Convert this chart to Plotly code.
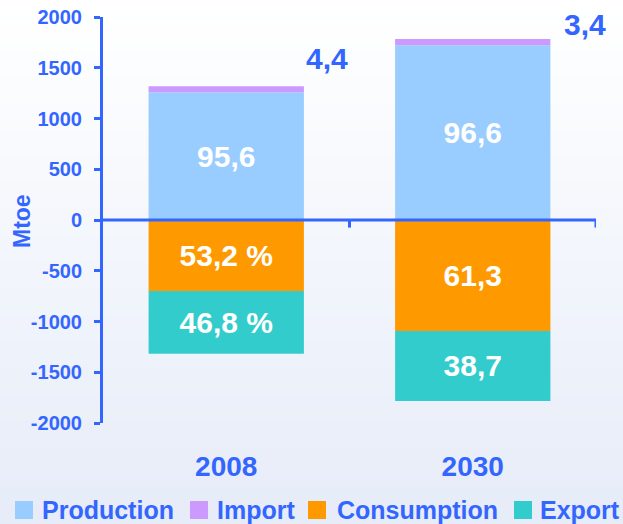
import plotly.graph_objects as go

years = ["2008", "2030"]
production = [1259, 1722]
imports = [58, 61]
consumption = [-700, -1093]
export = [-617, -690]

prod_labels = ["95,6", "96,6"]
cons_labels = ["53,2 %", "61,3"]
exp_labels = ["46,8 %", "38,7"]
import_labels = ["4,4", "3,4"]
import_label_x = [0.41, 1.455]
import_label_y = [1590, 1925]

series_names = ["Production", "Import", "Consumption", "Export"]
series_colors = ["#99CCFF", "#CC99FF", "#FF9900", "#33CCCC"]

y_ticks = [-2000, -1500, -1000, -500, 0, 500, 1000, 1500, 2000]
y_tick_text = ["-2000", "-1500", "-1000", "-500", "0", "500", "1000", "1500", "2000"]

BLUE = "#3366FF"
FONT = "Arial, Liberation Sans, sans-serif"

# page geometry (pixels) of the plot area
W, H = 623, 524
L, R, T, B = 103, 27, 17, 101
PW, PH = W - L - R, H - T - B


def px_x(p):
    return (p - L) / PW


def px_y(p):
    return (H - B - p) / PH


fig = go.Figure()
txtfont = dict(family=FONT, size=30, color="white", weight="bold")
values = [production, imports, consumption, export]
labels = [prod_labels, None, cons_labels, exp_labels]
for name, col, vals, lab in zip(series_names, series_colors, values, labels):
    if lab is None:
        fig.add_bar(name=name, x=years, y=vals, marker_color=col,
                    textposition="none", marker_line_width=0, showlegend=False)
    else:
        fig.add_bar(name=name, x=years, y=vals, marker_color=col, text=lab,
                    textposition="inside", insidetextanchor="middle",
                    textfont=txtfont, marker_line_width=0, showlegend=False)

for lx, ly, lt in zip(import_label_x, import_label_y, import_labels):
    fig.add_annotation(x=lx, y=ly, text=lt, showarrow=False,
                       font=dict(family=FONT, size=30, color=BLUE, weight="bold"))

# gradient background
n = 40
top = (255, 255, 255)
bot = (230, 236, 248)
y_lo, y_hi = px_y(H + 2), px_y(-2)
for i in range(n):
    t = i / (n - 1)
    c = tuple(round(bot[k] + (top[k] - bot[k]) * t) for k in range(3))
    fig.add_shape(type="rect", xref="paper", yref="paper",
                  x0=px_x(-2), x1=px_x(W + 2),
                  y0=y_lo + (y_hi - y_lo) * i / n, y1=y_lo + (y_hi - y_lo) * (i + 1) / n + 0.002,
                  fillcolor="rgb(%d,%d,%d)" % c, line_width=0, layer="below")

# x axis line at zero with category-boundary ticks
fig.add_shape(type="line", xref="x", yref="y", x0=-0.5, x1=1.5, y0=0, y1=0,
              line=dict(color=BLUE, width=3))
for bx in [0.5, 1.5]:
    fig.add_shape(type="line", xref="x", yref="y", x0=bx, x1=bx, y0=0, y1=-75,
                  line=dict(color=BLUE, width=3))

# y axis title
fig.add_annotation(xref="paper", yref="paper", x=px_x(22), y=px_y(221),
                   text="Mtoe", textangle=-90, showarrow=False,
                   xanchor="center", yanchor="middle",
                   font=dict(family=FONT, size=23, color=BLUE, weight="bold"))

# manual legend in one row
sw_x = [15, 190, 308, 514]
tx_x = [40, 215, 335, 538]
for name, col, sx, tx in zip(series_names, series_colors, sw_x, tx_x):
    fig.add_shape(type="rect", xref="paper", yref="paper",
                  x0=px_x(sx), x1=px_x(sx + 18), y0=px_y(519), y1=px_y(501),
                  fillcolor=col, line_width=0)
    fig.add_annotation(xref="paper", yref="paper", x=px_x(tx), y=px_y(510),
                       xanchor="left", yanchor="middle", text=name, showarrow=False,
                       font=dict(family=FONT, size=25, color=BLUE, weight="bold"))

fig.update_layout(
    width=W, height=H,
    margin=dict(l=L, r=R, t=T, b=B, autoexpand=False),
    paper_bgcolor="white",
    plot_bgcolor="rgba(0,0,0,0)",
    barmode="relative",
    bargap=0.37,
    font=dict(family=FONT, color=BLUE),
    showlegend=False,
    xaxis=dict(range=[-0.5, 1.5], showline=False, showgrid=False, zeroline=False,
               automargin=False,
               ticks="outside", ticklen=18, tickcolor="rgba(0,0,0,0)",
               tickfont=dict(family=FONT, size=28, color=BLUE, weight="bold")),
    yaxis=dict(range=[-2000, 2000], tickvals=y_ticks, ticktext=y_tick_text,
               showline=True, linecolor=BLUE, automargin=False,
               linewidth=3, ticks="outside", ticklen=6, tickwidth=3, tickcolor=BLUE,
               showgrid=False, zeroline=False, ticklabelstandoff=8,
               tickfont=dict(family=FONT, size=20, color=BLUE, weight="bold")),
)

fig.write_html("out.html", config={"displayModeBar": False},
               post_script="document.body.style.margin='0';document.body.style.overflow='hidden';")
